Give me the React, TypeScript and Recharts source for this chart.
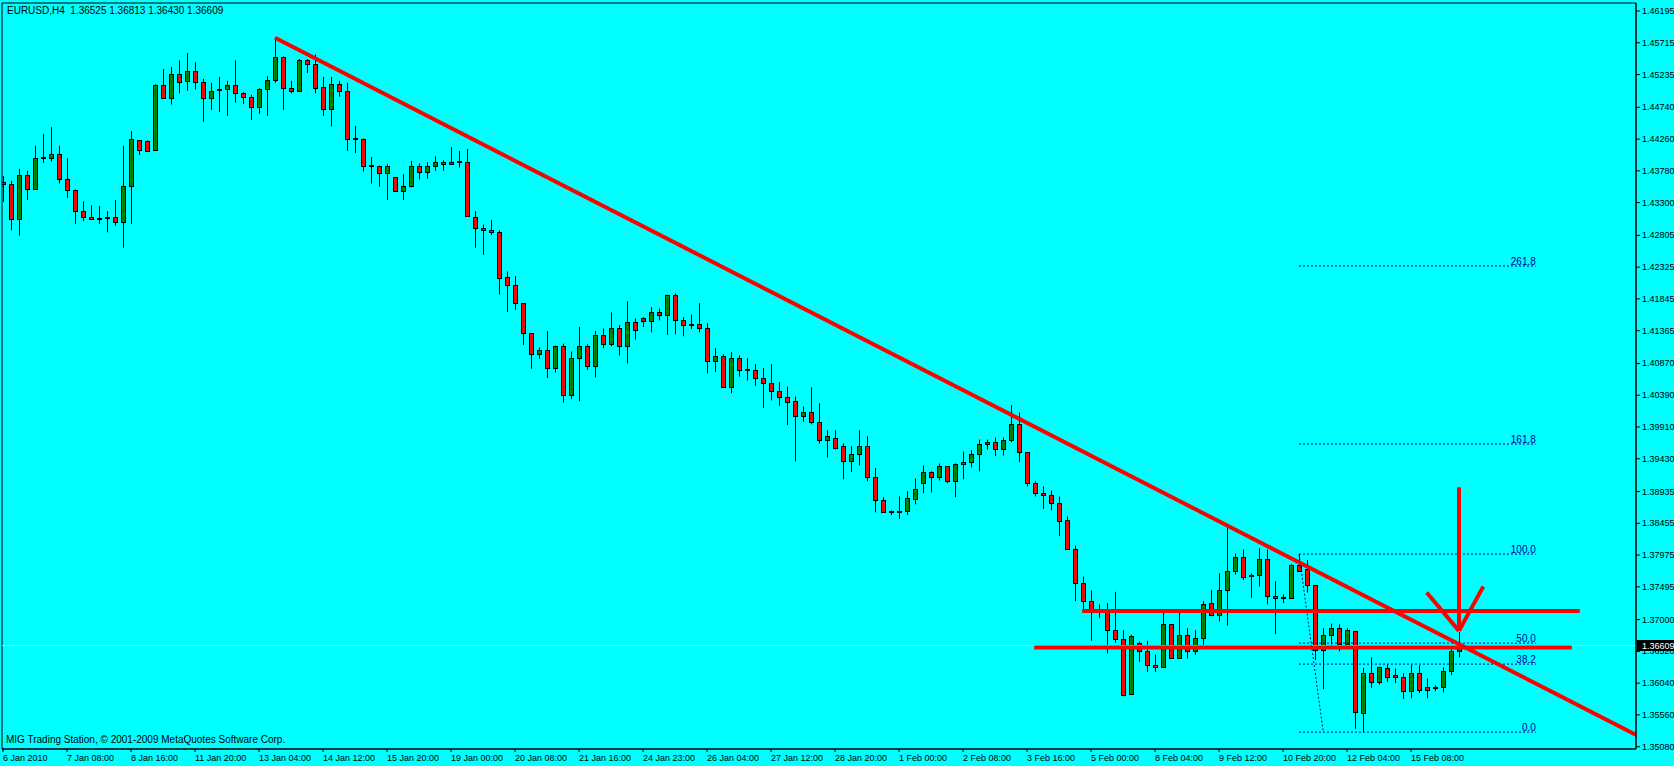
import { ComposedChart, Bar, XAxis, YAxis, ReferenceLine, ReferenceArea } from 'recharts';

// EURUSD H4 candles
const opens = [
  1.4361, 1.4358, 1.4305, 1.4371, 1.4350, 1.4398, 1.4398, 1.4403, 1.4365, 1.4349,
  1.4318, 1.4309, 1.4306, 1.4306, 1.4308, 1.4301, 1.4355, 1.4424, 1.4423, 1.4409,
  1.4508, 1.4488, 1.4524, 1.4513, 1.4529, 1.4512, 1.4488, 1.4501, 1.4501, 1.4507,
  1.4496, 1.4489, 1.4474, 1.4501, 1.4515, 1.4550, 1.4503, 1.4498, 1.4545, 1.4540,
  1.4504, 1.4471, 1.4509, 1.4498, 1.4426, 1.4426, 1.4386, 1.4386, 1.4374, 1.4368,
  1.4347, 1.4355, 1.4385, 1.4377, 1.4386, 1.4392, 1.4388, 1.4392, 1.4392, 1.4309,
  1.4291, 1.4288, 1.4285, 1.4217, 1.4205, 1.4178, 1.4133, 1.4102, 1.4107, 1.4080,
  1.4113, 1.4039, 1.4095, 1.4114, 1.4083, 1.4130, 1.4117, 1.4140, 1.4113, 1.4149,
  1.4155, 1.4151, 1.4164, 1.4160, 1.4190, 1.4152, 1.4146, 1.4146, 1.4140, 1.4090,
  1.4098, 1.4052, 1.4095, 1.4077, 1.4077, 1.4065, 1.4057, 1.4046, 1.4037, 1.4030,
  1.4007, 1.4013, 1.3998, 1.3971, 1.3975, 1.3962, 1.3939, 1.3950, 1.3962, 1.3915,
  1.3880, 1.3862, 1.3863, 1.3864, 1.3882, 1.3906, 1.3923, 1.3915, 1.3932, 1.3909,
  1.3935, 1.3938, 1.3950, 1.3965, 1.3968, 1.3958, 1.3971, 1.3995, 1.3953, 1.3906,
  1.3891, 1.3888, 1.3876, 1.3850, 1.3806, 1.3755, 1.3728, 1.3714, 1.3711, 1.3685,
  1.3670, 1.3587, 1.3664, 1.3653, 1.3632, 1.3629, 1.3693, 1.3642, 1.3676, 1.3653,
  1.3672, 1.3725, 1.3707, 1.3744, 1.3774, 1.3794, 1.3766, 1.3768, 1.3791, 1.3735,
  1.3732, 1.3732, 1.3782, 1.3776, 1.3752, 1.3654, 1.3676, 1.3688, 1.3663, 1.3683,
  1.3559, 1.3619, 1.3605, 1.3627, 1.3616, 1.3613, 1.3592, 1.3620, 1.3598, 1.3597,
  1.3598, 1.3622, 1.36525,
];
const highs = [
  1.4370, 1.4363, 1.4381, 1.4378, 1.4416, 1.4434, 1.4444, 1.4416, 1.4397, 1.4350,
  1.4332, 1.4326, 1.4325, 1.4317, 1.4334, 1.4416, 1.4438, 1.4424, 1.4424, 1.4509,
  1.4532, 1.4535, 1.4545, 1.4556, 1.4542, 1.4517, 1.4511, 1.4520, 1.4514, 1.4545,
  1.4497, 1.4493, 1.4503, 1.4521, 1.4579, 1.4551, 1.4514, 1.4547, 1.4547, 1.4554,
  1.4520, 1.4520, 1.4514, 1.4511, 1.4446, 1.4427, 1.4399, 1.4386, 1.4388, 1.4368,
  1.4373, 1.4393, 1.4389, 1.4391, 1.4400, 1.4394, 1.4414, 1.4408, 1.4411, 1.4317,
  1.4297, 1.4304, 1.4288, 1.4226, 1.4219, 1.4178, 1.4133, 1.4111, 1.4136, 1.4114,
  1.4117, 1.4105, 1.4142, 1.4116, 1.4136, 1.4140, 1.4164, 1.4145, 1.4181, 1.4155,
  1.4157, 1.4172, 1.4170, 1.4191, 1.4193, 1.4157, 1.4161, 1.4178, 1.4148, 1.4110,
  1.4101, 1.4104, 1.4099, 1.4095, 1.4086, 1.4080, 1.4086, 1.4059, 1.4052, 1.4037,
  1.4022, 1.4051, 1.4027, 1.3986, 1.3986, 1.3966, 1.3962, 1.3986, 1.3977, 1.3929,
  1.3885, 1.3865, 1.3886, 1.3894, 1.3913, 1.3933, 1.3924, 1.3936, 1.3932, 1.3936,
  1.3954, 1.3956, 1.3972, 1.3972, 1.3975, 1.3975, 1.4024, 1.4013, 1.3953, 1.3909,
  1.3901, 1.3895, 1.3886, 1.3856, 1.3812, 1.3765, 1.3744, 1.3723, 1.3725, 1.3742,
  1.3684, 1.3677, 1.3667, 1.3668, 1.3647, 1.3710, 1.3693, 1.3710, 1.3687, 1.3684,
  1.3728, 1.3745, 1.3770, 1.3838, 1.3800, 1.3806, 1.3770, 1.3808, 1.3806, 1.3758,
  1.3738, 1.3784, 1.3799, 1.3790, 1.3752, 1.3687, 1.3694, 1.3693, 1.3687, 1.3683,
  1.3627, 1.3643, 1.3629, 1.3633, 1.3626, 1.3619, 1.3632, 1.3631, 1.3611, 1.3601,
  1.3628, 1.3658, 1.36813,
];
const lows = [
  1.4331, 1.4288, 1.4280, 1.4334, 1.4350, 1.4390, 1.4392, 1.4359, 1.4337, 1.4298,
  1.4302, 1.4304, 1.4298, 1.4285, 1.4295, 1.4262, 1.4298, 1.4402, 1.4407, 1.4409,
  1.4488, 1.4478, 1.4495, 1.4499, 1.4501, 1.4452, 1.4470, 1.4467, 1.4461, 1.4481,
  1.4479, 1.4455, 1.4464, 1.4461, 1.4511, 1.4470, 1.4495, 1.4498, 1.4526, 1.4495,
  1.4461, 1.4445, 1.4490, 1.4408, 1.4405, 1.4377, 1.4359, 1.4354, 1.4334, 1.4346,
  1.4334, 1.4353, 1.4365, 1.4366, 1.4378, 1.4378, 1.4388, 1.4383, 1.4309, 1.4262,
  1.4251, 1.4281, 1.4191, 1.4165, 1.4168, 1.4115, 1.4079, 1.4094, 1.4065, 1.4073,
  1.4028, 1.4033, 1.4030, 1.4077, 1.4066, 1.4110, 1.4113, 1.4099, 1.4087, 1.4123,
  1.4142, 1.4134, 1.4152, 1.4130, 1.4131, 1.4128, 1.4139, 1.4134, 1.4072, 1.4074,
  1.4051, 1.4042, 1.4067, 1.4061, 1.4053, 1.4020, 1.4031, 1.4023, 1.3994, 1.3939,
  1.3999, 1.3995, 1.3966, 1.3945, 1.3957, 1.3912, 1.3923, 1.3933, 1.3909, 1.3862,
  1.3861, 1.3858, 1.3852, 1.3858, 1.3874, 1.3891, 1.3892, 1.3910, 1.3906, 1.3885,
  1.3912, 1.3930, 1.3924, 1.3957, 1.3947, 1.3948, 1.3968, 1.3938, 1.3901, 1.3886,
  1.3867, 1.3865, 1.3826, 1.3805, 1.3728, 1.3714, 1.3668, 1.3702, 1.3649, 1.3665,
  1.3584, 1.3586, 1.3636, 1.3621, 1.3621, 1.3628, 1.3641, 1.3641, 1.3641, 1.3647,
  1.3661, 1.3705, 1.3697, 1.3691, 1.3768, 1.3760, 1.3733, 1.3750, 1.3723, 1.3678,
  1.3725, 1.3732, 1.3773, 1.3741, 1.3639, 1.3595, 1.3662, 1.3652, 1.3662, 1.3535,
  1.3530, 1.3597, 1.3602, 1.3606, 1.3604, 1.3580, 1.3581, 1.3589, 1.3581, 1.3592,
  1.3590, 1.3616, 1.36430,
];
const closes = [
  1.4358, 1.4305, 1.4371, 1.4350, 1.4397, 1.4397, 1.4403, 1.4365, 1.4349, 1.4318,
  1.4309, 1.4306, 1.4305, 1.4307, 1.4301, 1.4355, 1.4426, 1.4409, 1.4408, 1.4508,
  1.4488, 1.4524, 1.4512, 1.4529, 1.4512, 1.4488, 1.4499, 1.4500, 1.4507, 1.4495,
  1.4489, 1.4474, 1.4501, 1.4515, 1.4550, 1.4503, 1.4498, 1.4545, 1.4540, 1.4503,
  1.4471, 1.4509, 1.4498, 1.4426, 1.4425, 1.4385, 1.4385, 1.4374, 1.4385, 1.4347,
  1.4355, 1.4385, 1.4377, 1.4386, 1.4392, 1.4388, 1.4392, 1.4392, 1.4310, 1.4291,
  1.4288, 1.4285, 1.4216, 1.4205, 1.4178, 1.4133, 1.4102, 1.4107, 1.4080, 1.4113,
  1.4039, 1.4095, 1.4114, 1.4083, 1.4130, 1.4117, 1.4140, 1.4113, 1.4149, 1.4137,
  1.4151, 1.4164, 1.4160, 1.4190, 1.4152, 1.4145, 1.4145, 1.4140, 1.4090, 1.4098,
  1.4052, 1.4095, 1.4077, 1.4076, 1.4065, 1.4057, 1.4046, 1.4037, 1.4029, 1.4007,
  1.4013, 1.3998, 1.3971, 1.3977, 1.3960, 1.3939, 1.3950, 1.3963, 1.3915, 1.3880,
  1.3862, 1.3862, 1.3863, 1.3883, 1.3897, 1.3923, 1.3915, 1.3932, 1.3909, 1.3935,
  1.3938, 1.3950, 1.3965, 1.3968, 1.3958, 1.3971, 1.3995, 1.3953, 1.3906, 1.3891,
  1.3888, 1.3876, 1.3849, 1.3806, 1.3756, 1.3728, 1.3715, 1.3713, 1.3685, 1.3670,
  1.3586, 1.3675, 1.3653, 1.3632, 1.3629, 1.3694, 1.3642, 1.3676, 1.3653, 1.3672,
  1.3723, 1.3707, 1.3744, 1.3774, 1.3794, 1.3765, 1.3766, 1.3791, 1.3735, 1.3732,
  1.3733, 1.3782, 1.3774, 1.3752, 1.3654, 1.3676, 1.3688, 1.3663, 1.3684, 1.3561,
  1.3619, 1.3605, 1.3628, 1.3614, 1.3613, 1.3592, 1.3620, 1.3593, 1.3593, 1.3597,
  1.3622, 1.3652, 1.36609,
];

const xLabels = [
  '6 Jan 2010', '7 Jan 08:00', '8 Jan 16:00', '11 Jan 20:00', '13 Jan 04:00', '14 Jan 12:00',
  '15 Jan 20:00', '19 Jan 00:00', '20 Jan 08:00', '21 Jan 16:00', '24 Jan 23:00', '26 Jan 04:00',
  '27 Jan 12:00', '28 Jan 20:00', '1 Feb 00:00', '2 Feb 08:00', '3 Feb 16:00', '5 Feb 00:00',
  '8 Feb 04:00', '9 Feb 12:00', '10 Feb 20:00', '12 Feb 04:00', '15 Feb 08:00',
];
const yTicks = [
  1.46195, 1.45715, 1.45235, 1.4474, 1.4426, 1.4378, 1.433, 1.42805, 1.42325, 1.41845,
  1.41365, 1.4087, 1.4039, 1.3991, 1.3943, 1.38935, 1.38455, 1.37975, 1.37495, 1.37,
  1.3652, 1.3604, 1.3556, 1.3508,
];
const lastPrice = 1.36609;
const title = 'EURUSD,H4  1.36525 1.36813 1.36430 1.36609';

// drawn objects (bar index, price)
const trendLine = [{ x: 34, y: 1.4579 }, { x: 204.1, y: 1.3526 }];
const upperLevel = { from: 134.9, to: 197.1, price: 1.3713 };
const lowerLevel = { from: 128.9, to: 196.1, price: 1.36579 };
const arrowShaft = [{ x: 182, y: 1.3900 }, { x: 182, y: 1.3683 }];
const arrowLeft = [{ x: 177.96, y: 1.3741 }, { x: 182, y: 1.3683 }];
const arrowRight = [{ x: 185.04, y: 1.3750 }, { x: 182, y: 1.3683 }];

const fibHigh = 1.3799;
const fibLow = 1.3530;
const fibFrom = 162;
const fibTo = 191.6;
const fibDiagEnd = 165.04;
const fibLevels = [0, 38.2, 50, 100, 161.8, 261.8];

const xDomain = [-0.125, 204.125];
const yDomain = [1.35045, 1.46316];

const data = opens.map((o, i) => ({ i, o, h: highs[i], l: lows[i], c: closes[i] }));
const xTickBars = xLabels.map((_, k) => k * 8);

const FONT = "'Liberation Sans', Arial, sans-serif";
const BG = '#00FFFF';

const Candle = (props: any) => {
  const { x, y, width, height, payload } = props;
  if (x == null || payload == null) return null;
  const top = Math.min(y, y + height);
  const bot = Math.max(y, y + height);
  const { o, h, l, c } = payload;
  const py = (v: number) => top + ((h - v) / (h - l)) * (bot - top);
  const cx = Math.round(x + width / 2) + 0.5;
  const yo = py(o);
  const yc = py(c);
  const bTop = Math.round(Math.min(yo, yc)) + 0.5;
  const bBot = Math.round(Math.max(yo, yc)) + 0.5;
  return (
    <g>
      <line x1={cx} x2={cx} y1={top} y2={bot} stroke="#000" strokeWidth={1} />
      {bBot - bTop < 1.5 ? (
        <line x1={cx - 2.5} x2={cx + 2.5} y1={Math.round((yo + yc) / 2)} y2={Math.round((yo + yc) / 2)} stroke="#000" strokeWidth={2} />
      ) : (
        <rect x={cx - 2} y={bTop} width={4} height={bBot - bTop} fill={c > o ? '#008000' : '#FF0000'} stroke="#000" strokeWidth={1} />
      )}
    </g>
  );
};

const XTick = (props: any) => {
  const { x, y, payload } = props;
  const label = xLabels[Math.round(payload.value / 8)];
  return (
    <text x={x} y={y + 7} fontSize={9} fontFamily={FONT} fill="#000" textAnchor="start">
      {label}
    </text>
  );
};

const YTick = (props: any) => {
  const { x, y, payload } = props;
  const v = payload.value;
  if (v === lastPrice) {
    return (
      <g>
        <rect x={x - 5} y={y - 5.5} width={38} height={11} fill="#000" />
        <text x={x} y={y + 3.5} fontSize={9} fontFamily={FONT} fill="#fff">
          {v.toFixed(5)}
        </text>
      </g>
    );
  }
  return (
    <text x={x} y={y + 3} fontSize={9} fontFamily={FONT} fill="#000">
      {v.toFixed(5)}
    </text>
  );
};

const FibText = (props: any) => {
  const { viewBox, text } = props;
  if (!viewBox) return null;
  return (
    <text x={viewBox.x + viewBox.width} y={viewBox.y - 1.5} textAnchor="end" fontSize={10} fontFamily={FONT} fill="#0000A0">
      {text}
    </text>
  );
};

const App = () => {
  return (
    <div style={{ position: 'absolute', left: 0, top: 0, width: 1674, height: 766, background: BG }}>
      <ComposedChart width={1674} height={766} data={data} margin={{ top: 3, right: 0, bottom: 0, left: 2 }}>
        <ReferenceArea
          x1={xDomain[0]}
          x2={xDomain[1]}
          y1={yDomain[0]}
          y2={yDomain[1]}
          fill="none"
          stroke="#000"
          strokeWidth={1}
          ifOverflow="visible"
        />
        <XAxis
          dataKey="i"
          type="number"
          domain={xDomain}
          allowDataOverflow
          ticks={xTickBars}
          interval={0}
          tick={<XTick />}
          tickSize={3}
          tickLine={{ stroke: '#000' }}
          axisLine={{ stroke: '#000' }}
          height={17}
        />
        <YAxis
          orientation="right"
          type="number"
          domain={yDomain}
          allowDataOverflow
          ticks={[...yTicks, lastPrice]}
          interval={0}
          tick={<YTick />}
          tickSize={4}
          tickMargin={2}
          tickLine={{ stroke: '#000' }}
          axisLine={{ stroke: '#000' }}
          width={38}
        />
        <ReferenceLine y={lastPrice} stroke="#E0C8C8" strokeWidth={1} />
        {fibLevels.map((lv) => (
          <ReferenceLine
            key={lv}
            segment={[
              { x: fibFrom, y: fibLow + (lv / 100) * (fibHigh - fibLow) },
              { x: fibTo, y: fibLow + (lv / 100) * (fibHigh - fibLow) },
            ]}
            stroke="#0000A0"
            strokeWidth={1}
            strokeDasharray="2 2"
            ifOverflow="visible"
            label={<FibText text={lv.toFixed(1)} />}
          />
        ))}
        <ReferenceLine
          segment={[{ x: fibFrom, y: fibHigh }, { x: fibDiagEnd, y: fibLow }]}
          stroke="#0000A0"
          strokeWidth={1}
          strokeDasharray="2 2"
          ifOverflow="visible"
        />
        <Bar dataKey={(d: any) => [d.l, d.h]} barSize={6} shape={<Candle />} isAnimationActive={false} />
        <ReferenceLine segment={trendLine} stroke="#FF0000" strokeWidth={4} ifOverflow="visible" />
        <ReferenceLine
          segment={[{ x: upperLevel.from, y: upperLevel.price }, { x: upperLevel.to, y: upperLevel.price }]}
          stroke="#FF0000"
          strokeWidth={4}
          ifOverflow="visible"
        />
        <ReferenceLine
          segment={[{ x: lowerLevel.from, y: lowerLevel.price }, { x: lowerLevel.to, y: lowerLevel.price }]}
          stroke="#FF0000"
          strokeWidth={4}
          ifOverflow="visible"
        />
        <ReferenceLine segment={arrowShaft} stroke="#FF0000" strokeWidth={4} ifOverflow="visible" />
        <ReferenceLine segment={arrowLeft} stroke="#FF0000" strokeWidth={4} ifOverflow="visible" />
        <ReferenceLine segment={arrowRight} stroke="#FF0000" strokeWidth={4} ifOverflow="visible" />
      </ComposedChart>
      <div style={{ position: 'absolute', left: 7, top: 5, fontFamily: FONT, fontSize: 10, lineHeight: '12px', whiteSpace: 'pre', color: '#000' }}>
        {title}
      </div>
      <div style={{ position: 'absolute', left: 6, top: 734, fontFamily: FONT, fontSize: 10, lineHeight: '12px', whiteSpace: 'pre', color: '#000' }}>
        MIG Trading Station, © 2001-2009 MetaQuotes Software Corp.
      </div>
    </div>
  );
};

export default App;
